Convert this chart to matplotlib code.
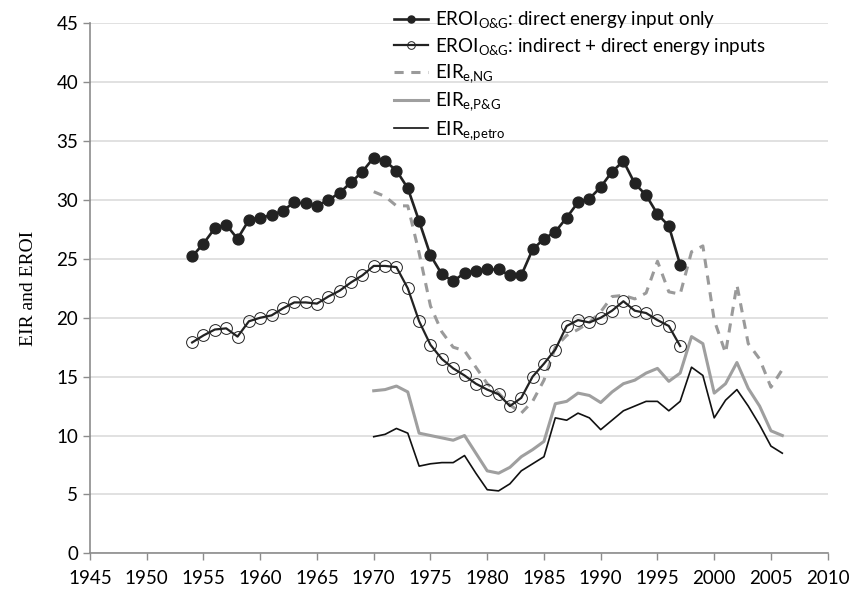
import matplotlib.pyplot as plt
import numpy as np

# años de cada serie
anios_eroi = list(range(1954, 1998))
anios_eir = list(range(1970, 2007))

# EROI O&G, solo energía directa
eroi_directo = [25.2, 26.3, 27.6, 27.9, 26.7, 28.3, 28.5, 28.7, 29.1, 29.8,
                29.7, 29.5, 30.0, 30.6, 31.5, 32.4, 33.6, 33.3, 32.5, 31.0,
                28.2, 25.3, 23.7, 23.1, 23.8, 24.0, 24.1, 24.1, 23.6, 23.6,
                25.8, 26.7, 27.3, 28.5, 29.8, 30.1, 31.1, 32.4, 33.3, 31.4,
                30.4, 28.8, 27.8, 24.5]

# EROI O&G, energía indirecta + directa
eroi_total = [17.9, 18.5, 19.0, 19.1, 18.4, 19.7, 20.0, 20.2, 20.8, 21.3,
              21.3, 21.2, 21.8, 22.3, 23.0, 23.6, 24.4, 24.4, 24.3, 22.5,
              19.7, 17.7, 16.5, 15.7, 15.1, 14.4, 13.9, 13.5, 12.5, 13.2,
              15.0, 16.1, 17.3, 19.3, 19.8, 19.6, 20.0, 20.6, 21.4, 20.6,
              20.4, 19.8, 19.3, 17.6]

eir_ng = [30.7, 30.3, 29.5, 29.5, 25.5, 21.0, 18.8, 17.5, 17.2, 15.8,
          14.4, 13.6, 12.6, 11.9, 12.9, 14.7, 17.5, 18.5, 19.0, 19.6,
          20.5, 21.8, 21.9, 21.6, 22.1, 24.8, 22.2, 22.0, 25.6, 26.1,
          19.8, 17.0, 22.8, 17.8, 16.5, 14.1, 15.6]

eir_pg = [13.8, 13.9, 14.2, 13.7, 10.2, 10.0, 9.8, 9.6, 10.0, 8.5,
          7.0, 6.8, 7.3, 8.2, 8.8, 9.5, 12.7, 12.9, 13.6, 13.4,
          12.8, 13.7, 14.4, 14.7, 15.3, 15.7, 14.6, 15.3, 18.4, 17.8,
          13.6, 14.4, 16.2, 14.0, 12.5, 10.4, 10.0]

eir_petro = [9.9, 10.1, 10.6, 10.2, 7.4, 7.6, 7.7, 7.7, 8.3, 6.8,
             5.4, 5.3, 5.9, 7.0, 7.6, 8.2, 11.5, 11.3, 11.9, 11.5,
             10.5, 11.3, 12.1, 12.5, 12.9, 12.9, 12.1, 12.9, 15.8, 15.1,
             11.5, 13.0, 13.9, 12.5, 10.9, 9.1, 8.5]

etiquetas = [r"EROI$_{O&G}$: direct energy input only",
             r"EROI$_{O&G}$: indirect + direct energy inputs",
             r"EIR$_{e{,}NG}$",
             r"EIR$_{e{,}P&G}$",
             r"EIR$_{e{,}petro}$"]

plt.rcParams["font.family"] = ["Lato", "DejaVu Sans"]
plt.rcParams["mathtext.fontset"] = "custom"
plt.rcParams["mathtext.rm"] = "Lato"
plt.rcParams["mathtext.it"] = "Lato"
plt.rcParams["mathtext.default"] = "regular"

fig = plt.figure(figsize=(8.49, 5.93), dpi=100)
ax = fig.add_axes([90 / 849, 1 - 553.3 / 593, (827.7 - 90) / 849, (553.3 - 23.3) / 593])

ax.plot(anios_eroi, eroi_directo, color="#222222", lw=1.9, marker="o",
        ms=7.8, mfc="#222222", mec="#222222", label=etiquetas[0], zorder=5)
ax.plot(anios_eroi, eroi_total, color="#222222", lw=1.6, marker="o",
        ms=8.5, mfc="none", mec="#222222", mew=0.7, label=etiquetas[1], zorder=5)
ax.plot(anios_eir, eir_ng, color="#9a9a9a", lw=2.2, ls=(0, (3, 2.5)),
        label=etiquetas[2], zorder=3)
ax.plot(anios_eir, eir_pg, color="#9f9f9f", lw=2.2, label=etiquetas[3], zorder=3)
ax.plot(anios_eir, eir_petro, color="#111111", lw=1.2, label=etiquetas[4], zorder=4)

ax.set_xlim(1945, 2010)
ax.set_ylim(0, 45)
ax.set_xticks(np.arange(1945, 2011, 5))
ax.set_yticks(np.arange(0, 46, 5))
ax.yaxis.grid(True, color="#d9d9d9", lw=1.1)
ax.set_axisbelow(True)

for lado in ["top", "right"]:
    ax.spines[lado].set_visible(False)
for lado in ["left", "bottom"]:
    ax.spines[lado].set_color("#8c8c8c")
    ax.spines[lado].set_linewidth(1.2)

ax.tick_params(axis="both", colors="#8c8c8c", labelcolor="black", labelsize=13.5,
               length=5, width=1)
ax.tick_params(axis="x", pad=7)

ax.set_ylabel("EIR and EROI", family="Liberation Serif", fontsize=14, labelpad=14)

ley = ax.legend(loc="upper left", bbox_to_anchor=(385 / 849, 1.0), bbox_transform=fig.transFigure,
                frameon=False, fontsize=13.5, handlelength=1.8, handletextpad=0.35,
                labelspacing=0.3, borderaxespad=0.1, markerscale=0.65)

fig.savefig("out.png", dpi=100)
